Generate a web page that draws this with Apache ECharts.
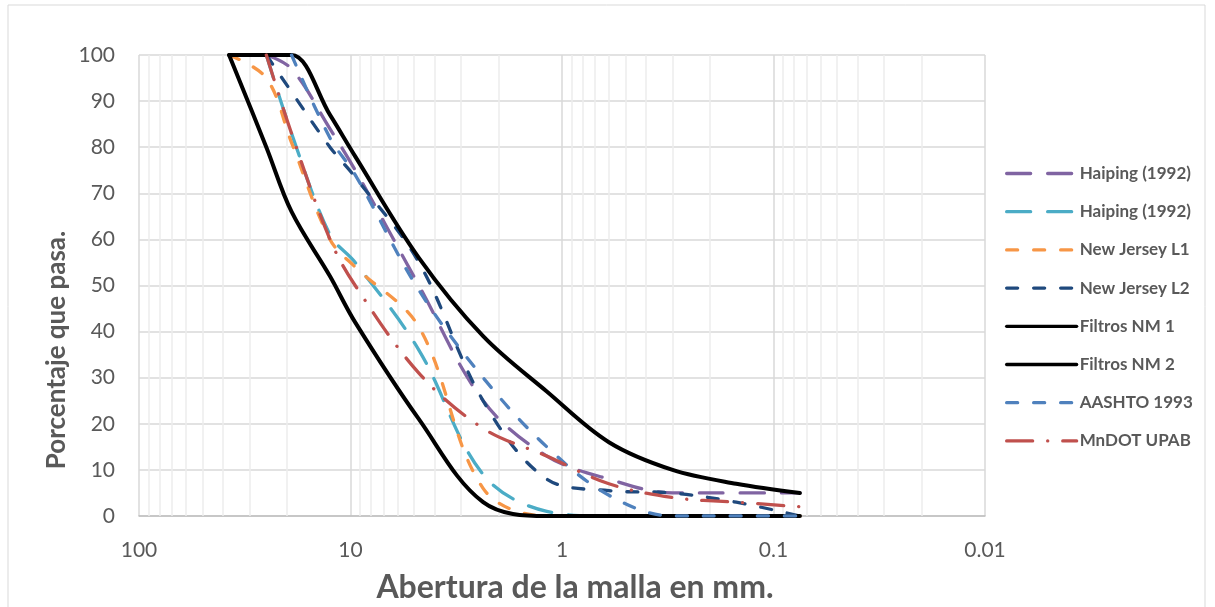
<!DOCTYPE html>
<html>
<head>
<meta charset="utf-8">
<script src="https://cdn.jsdelivr.net/npm/echarts@6/dist/echarts.min.js"></script>
<style>
  html, body { margin: 0; padding: 0; background: #ffffff; }
  #chart { width: 1215px; height: 607px; }
</style>
</head>
<body>
<div id="chart"></div>
<script>
// Sieve openings (mm) and percent passing for each gradation band
const sieveMm = [37.5, 25, 19, 12.5, 9.5, 4.75, 2.36, 1.18, 0.6, 0.3, 0.15, 0.075];

const haipingUpper  = [null, 100, 97, 84, 75, 50, 25, 13, 8, 5, 5, 5];
const haipingLower  = [null, 100, 83, 61, 55, 36, 9, 1, 0, 0, 0, 0];
const newJerseyL1   = [100, 95, 81, 60, 54, 41, 6, 0, 0, 0, 0, 0];
const newJerseyL2   = [null, 100, 92, 80, 73.5, 55, 25, 8, 5.5, 5, 3, 0];
const filtrosNM1    = [100, 100, 100, 87, 78, 56, 39, 27, 16, 10, 7, 5];
const filtrosNM2    = [100, 80, 66, 52, 42, 21, 3, 0, 0, 0, 0, 0];
const aashto1993    = [null, null, 100, 82, 74, 49, 30, 15, 4.5, 0, 0, 0];
const mndotUpab     = [null, 100, 83, 60, 50, 31, 19, 13, 7, 4, 3, 2];

const xTickLabels = [100, 10, 1, 0.1, 0.01];
const yTicks = [0, 10, 20, 30, 40, 50, 60, 70, 80, 90, 100];

// Minor log gridlines: 2..9 in every decade
const minorGridValues = [];
[0.01, 0.1, 1, 10].forEach(function (d) {
  for (let k = 2; k <= 9; k++) minorGridValues.push(+(k * d).toPrecision(3));
});

function pairs(values) {
  const out = [];
  values.forEach(function (v, i) { if (v !== null) out.push([sieveMm[i], v]); });
  return out;
}

const FONT = 'Lato';
const TEXT = '#595959';

const LONG_DASH = [24, 17];
const DASH = [11, 16];
const LONG_DASH_DOT = [26, 15, 0.1, 15];

function band(name, values, color, dash, width) {
  return {
    name: name,
    type: 'line',
    data: pairs(values),
    smooth: 0.35,
    symbol: 'none',
    showSymbol: false,
    z: 3,
    lineStyle: { color: color, width: width || 3.3, type: dash || 'solid', cap: 'round', join: 'round' },
    itemStyle: { color: color, opacity: 0 }
  };
}

const seriesList = [
  band('Haiping (1992)', haipingUpper, '#8064A2', LONG_DASH),
  band('Haiping (1992) ', haipingLower, '#4BACC6', LONG_DASH),
  band('New Jersey L1', newJerseyL1, '#F79646', DASH),
  band('New Jersey L2', newJerseyL2, '#1F497D', DASH),
  band('Filtros NM 1', filtrosNM1, '#000000', 'solid', 4),
  band('Filtros NM 2', filtrosNM2, '#000000', 'solid', 4),
  band('AASHTO 1993', aashto1993, '#4F81BD', DASH),
  band('MnDOT UPAB', mndotUpab, '#C0504D', LONG_DASH_DOT)
];

// Light vertical lines at the intermediate log positions
seriesList.unshift({
  name: 'minor-grid',
  type: 'line',
  data: [],
  silent: true,
  z: 1,
  markLine: {
    silent: true,
    z: 1,
    symbol: ['none', 'none'],
    animation: false,
    label: { show: false },
    lineStyle: { color: '#EDEDED', width: 1.5, type: 'solid' },
    data: minorGridValues.map(function (v) { return { xAxis: v }; })
  }
});

const chart = echarts.init(document.getElementById('chart'), null, { renderer: 'canvas' });

chart.setOption({
  animation: false,
  backgroundColor: '#ffffff',
  grid: { left: 139, right: 230, top: 55, bottom: 91, containLabel: false },
  xAxis: {
    type: 'log',
    logBase: 10,
    min: 0.01,
    max: 100,
    inverse: true,
    axisLine: { show: true, lineStyle: { color: '#BFBFBF', width: 1.5 } },
    axisTick: { show: false },
    axisLabel: {
      margin: 24,
      color: TEXT,
      fontFamily: FONT,
      fontSize: 21,
      formatter: function (v) {
        const hit = xTickLabels.find(function (t) { return Math.abs(Math.log10(t) - Math.log10(v)) < 1e-6; });
        return hit !== undefined ? String(hit) : '';
      }
    },
    splitLine: { show: true, lineStyle: { color: '#D9D9D9', width: 1.5 } },
    minorTick: { show: false },
    minorSplitLine: { show: false }
  },
  yAxis: {
    type: 'value',
    min: yTicks[0],
    max: yTicks[yTicks.length - 1],
    interval: 10,
    axisLine: { show: false },
    axisTick: { show: false },
    axisLabel: { margin: 24, color: TEXT, fontFamily: FONT, fontSize: 21 },
    splitLine: { show: true, lineStyle: { color: '#D9D9D9', width: 1.5 } }
  },
  legend: {
    orient: 'vertical',
    left: 1000,
    top: 160,
    itemWidth: 70,
    itemHeight: 18,
    itemGap: 21.2,
    selectedMode: false,
    itemStyle: { opacity: 0 },
    lineStyle: { width: 3.3 },
    data: seriesList.slice(1).map(function (s) { return s.name; }),
    textStyle: { color: TEXT, fontFamily: FONT, fontWeight: 'bold', fontSize: 17, padding: [0, 0, 0, -2] }
  },
  graphic: [
    {
      type: 'rect',
      shape: { x: 8, y: 5, width: 1197, height: 620 },
      style: { fill: 'none', stroke: '#D9D9D9', lineWidth: 1 },
      silent: true,
      z: -1
    },
    {
      type: 'text',
      x: 575,
      y: 588,
      style: {
        text: 'Abertura de la malla en mm.',
        fill: TEXT,
        font: 'bold 32px ' + FONT,
        textAlign: 'center',
        textVerticalAlign: 'middle',
        verticalAlign: 'middle'
      },
      silent: true
    },
    {
      type: 'text',
      x: 57,
      y: 350,
      rotation: Math.PI / 2,
      style: {
        text: 'Porcentaje que pasa.',
        fill: TEXT,
        font: 'bold 26px ' + FONT,
        textAlign: 'center',
        textVerticalAlign: 'middle',
        verticalAlign: 'middle'
      },
      silent: true
    }
  ],
  series: seriesList
});
</script>
</body>
</html>
